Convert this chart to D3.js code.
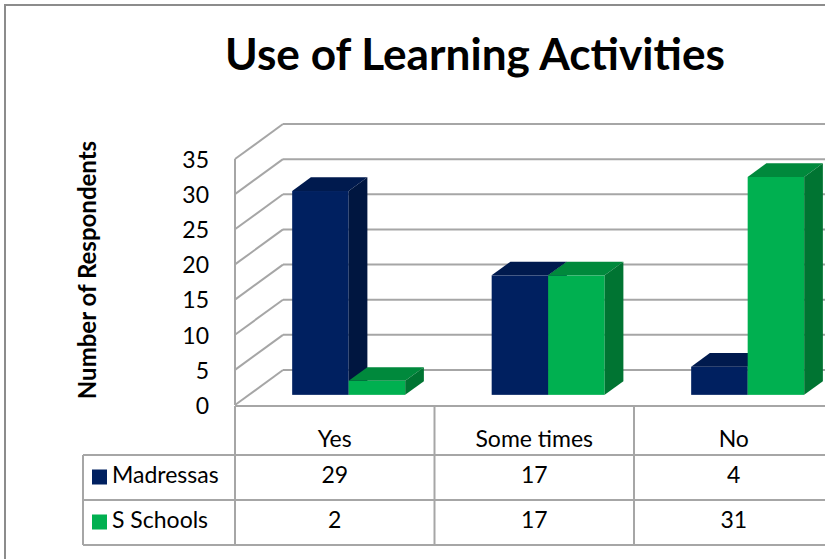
<!DOCTYPE html>
<html>
<head>
<meta charset="utf-8">
<script src="https://cdnjs.cloudflare.com/ajax/libs/d3/7.8.5/d3.min.js"></script>
<style>
  body { margin: 0; background: #fff; }
  text { font-family: Lato, "Open Sans", sans-serif; fill: #000; }
</style>
</head>
<body>
<svg width="825" height="559"></svg>
<script>
const categories = ['Yes', 'Some times', 'No']
const seriesNames = ['Madressas', 'S Schools']
const madressas = [29, 17, 4]
const sSchools = [2, 17, 31]
const yTicks = [0, 5, 10, 15, 20, 25, 30, 35]

const svg = d3.select('svg')
const width = +svg.attr('width')
const height = +svg.attr('height')

const colors = {
  'Madressas': { front: '#002060', top: '#001a4e', side: '#001640' },
  'S Schools': { front: '#00b050', top: '#00893c', side: '#007432' }
}
const grid = '#a6a6a6'

// 3d depth: offset of the back wall relative to front plane
const depthX = 48
const depthY = -35
const barFront = 0.29
const barBack = 0.68

// front plane scales
const xScale = d3.scaleBand()
  .domain(categories)
  .range([235, 235 + 3 * 199.5])

const yScale = d3.scaleLinear()
  .domain([0, 35])
  .range([405, 159])

const x1 = d3.scaleBand()
  .domain(seriesNames)
  .range([0, 113])

// outer frame
svg.append('rect')
  .attr('x', 5).attr('y', 5)
  .attr('width', width + 20).attr('height', height + 20)
  .style('fill', 'none')
  .style('stroke', '#8c8c8c')
  .style('stroke-width', 2)

// title
const title = svg.append('text')
  .attr('x', 475)
  .attr('y', 70)
  .style('text-anchor', 'middle')
  .style('font-weight', 'bold')
  .style('font-size', '40px')
  .text('Use of Learning Activities')
const tw = title.node().getComputedTextLength()
title.style('font-size', (40 * 500 / tw) + 'px')

// walls
const walls = svg.append('g').attr('class', 'walls')
  .style('stroke', grid)
  .style('stroke-width', 2)
  .style('fill', 'none')

// back wall gridlines
walls.selectAll('line.back')
  .data(yTicks)
  .join('line')
  .attr('class', 'back')
  .attr('x1', 235 + depthX)
  .attr('x2', width + 5)
  .attr('y1', d => yScale(d) + depthY)
  .attr('y2', d => yScale(d) + depthY)

// side wall gridlines
walls.selectAll('line.side')
  .data(yTicks)
  .join('line')
  .attr('class', 'side')
  .attr('x1', 235)
  .attr('x2', 235 + depthX)
  .attr('y1', d => yScale(d))
  .attr('y2', d => yScale(d) + depthY)

// side wall front edge
walls.append('line')
  .attr('x1', 235).attr('x2', 235)
  .attr('y1', yScale(35)).attr('y2', yScale(0))

// floor front edge
walls.append('line')
  .attr('x1', 235).attr('x2', width + 5)
  .attr('y1', yScale(0) + 1).attr('y2', yScale(0) + 1)

// y tick labels
svg.selectAll('text.tick')
  .data(yTicks)
  .join('text')
  .attr('class', 'tick')
  .attr('x', 209)
  .attr('y', d => yScale(d) + 3)
  .attr('dominant-baseline', 'middle')
  .style('text-anchor', 'end')
  .style('font-size', '23px')
  .text(d => d)

// y axis title
svg.append('text')
  .attr('transform', 'translate(96,270) rotate(-90)')
  .style('text-anchor', 'middle')
  .style('font-weight', 'bold')
  .style('font-size', '24px')
  .text('Number of Respondents')

// bars
const data = []
categories.forEach((c, i) => {
  data.push({ cat: c, series: 'Madressas', value: madressas[i] })
  data.push({ cat: c, series: 'S Schools', value: sSchools[i] })
})

const fx = barFront * depthX
const fy = barFront * depthY
const dx = (barBack - barFront) * depthX
const dy = (barBack - barFront) * depthY
const bw = x1.bandwidth()

const bars = svg.append('g').attr('class', 'bars')
data.forEach(d => {
  const x0 = xScale(d.cat) + (xScale.bandwidth() - 113) / 2 + x1(d.series) + fx
  const yb = yScale(0) + fy
  const yt = yScale(d.value) + fy
  const c = colors[d.series]
  const g = bars.append('g')
  // front
  g.append('rect')
    .attr('x', x0).attr('y', yt)
    .attr('width', bw).attr('height', yb - yt)
    .style('fill', c.front)
  // top
  g.append('polygon')
    .attr('points', [[x0, yt], [x0 + dx, yt + dy], [x0 + bw + dx, yt + dy], [x0 + bw, yt]].join(' '))
    .style('fill', c.top)
  // side
  g.append('polygon')
    .attr('points', [[x0 + bw, yt], [x0 + bw + dx, yt + dy], [x0 + bw + dx, yb + dy], [x0 + bw, yb]].join(' '))
    .style('fill', c.side)
})

// data table
const rowTop = 455
const rowH = 45
const table = svg.append('g').attr('class', 'table')
  .style('stroke', grid)
  .style('stroke-width', 2)

// vertical lines
const colEdges = categories.map(c => xScale(c)).concat([xScale.range()[1]])
table.selectAll('line.v')
  .data(colEdges)
  .join('line')
  .attr('class', 'v')
  .attr('x1', d => d).attr('x2', d => d)
  .attr('y1', yScale(0) + 1).attr('y2', rowTop + 2 * rowH)

table.append('line')
  .attr('x1', 83).attr('x2', 83)
  .attr('y1', rowTop).attr('y2', rowTop + 2 * rowH)

table.selectAll('line.h')
  .data([0, 1, 2])
  .join('line')
  .attr('class', 'h')
  .attr('x1', 83).attr('x2', width + 5)
  .attr('y1', d => rowTop + d * rowH)
  .attr('y2', d => rowTop + d * rowH)

// category labels
svg.selectAll('text.cat')
  .data(categories)
  .join('text')
  .attr('class', 'cat')
  .attr('x', d => xScale(d) + xScale.bandwidth() / 2)
  .attr('y', 441)
  .attr('dominant-baseline', 'middle')
  .style('text-anchor', 'middle')
  .style('font-size', '23px')
  .text(d => d)

// legend rows
const rows = [madressas, sSchools]
seriesNames.forEach((s, r) => {
  const cy = rowTop + r * rowH + rowH / 2
  svg.append('rect')
    .attr('x', 92).attr('y', cy - 8)
    .attr('width', 15).attr('height', 15)
    .style('fill', colors[s].front)
  svg.append('text')
    .attr('x', 112).attr('y', cy)
    .attr('dominant-baseline', 'middle')
    .style('font-size', '23px')
    .text(s)
  svg.selectAll('text.val' + r)
    .data(rows[r])
    .join('text')
    .attr('class', 'val' + r)
    .attr('x', (d, i) => xScale(categories[i]) + xScale.bandwidth() / 2)
    .attr('y', cy)
    .attr('dominant-baseline', 'middle')
    .style('text-anchor', 'middle')
    .style('font-size', '23px')
    .text(d => d)
})
</script>
</body>
</html>
